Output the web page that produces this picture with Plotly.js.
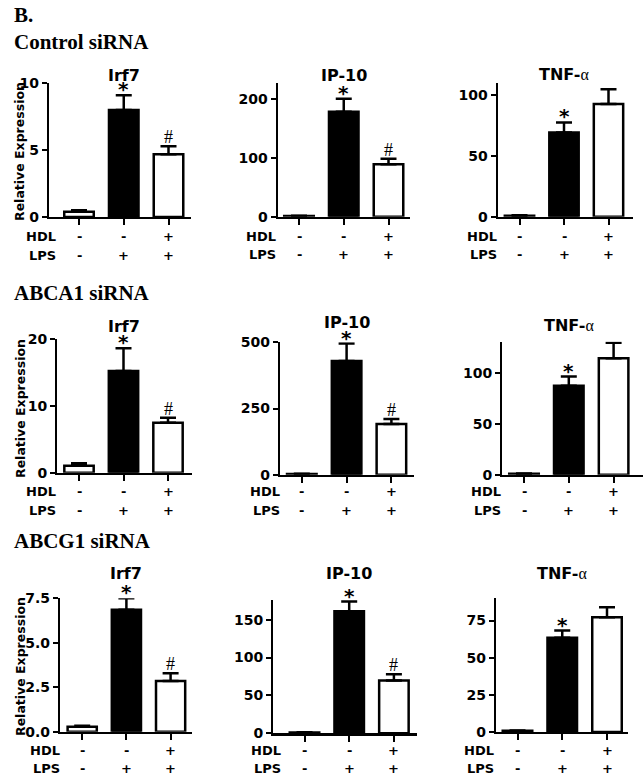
<!DOCTYPE html>
<html>
<head>
<meta charset="utf-8">
<script src="https://cdn.plot.ly/plotly-3.0.1.min.js"></script>
<style>html,body{margin:0;padding:0;background:#fff;}#chart{width:643px;height:779px;}</style>
</head>
<body>
<div id="chart"></div>
<script>
// ---------- data ----------
const conditions = ["Vehicle", "LPS", "HDL + LPS"];
const hdlRow = ["-", "-", "+"];
const lpsRow = ["-", "+", "+"];
const genes = ["Irf7", "IP-10", "TNF-α"];
const sirnaGroups = ["Control siRNA", "ABCA1 siRNA", "ABCG1 siRNA"];
const panelLetter = "B.";

const controlIrf7 = [0.4, 8.0, 4.7];
const controlIrf7Err = [0.1, 1.1, 0.6];
const controlIrf7Sig = ["", "*", "#"];
const controlIp10 = [1, 178, 89];
const controlIp10Err = [0.5, 22, 9];
const controlIp10Sig = ["", "*", "#"];
const controlTnf = [0.8, 69.4, 93];
const controlTnfErr = [0.3, 8.3, 12];
const controlTnfSig = ["", "*", ""];

const abca1Irf7 = [1.05, 15.25, 7.5];
const abca1Irf7Err = [0.35, 3.4, 0.75];
const abca1Irf7Sig = ["", "*", "#"];
const abca1Ip10 = [3, 429, 191];
const abca1Ip10Err = [1, 66, 19];
const abca1Ip10Sig = ["", "*", "#"];
const abca1Tnf = [1, 87.5, 114.8];
const abca1TnfErr = [0.3, 9.2, 15.2];
const abca1TnfSig = ["", "*", ""];

const abcg1Irf7 = [0.28, 6.85, 2.85];
const abcg1Irf7Err = [0.05, 0.65, 0.44];
const abcg1Irf7Sig = ["", "*", "#"];
const abcg1Ip10 = [1, 161, 69.6];
const abcg1Ip10Err = [0.3, 13, 8.4];
const abcg1Ip10Sig = ["", "*", "#"];
const abcg1Tnf = [0.8, 63.5, 77.3];
const abcg1TnfErr = [0.2, 4.8, 6.7];
const abcg1TnfSig = ["", "*", ""];

const panelValues = [controlIrf7, controlIp10, controlTnf, abca1Irf7, abca1Ip10, abca1Tnf, abcg1Irf7, abcg1Ip10, abcg1Tnf];
const panelErrors = [controlIrf7Err, controlIp10Err, controlTnfErr, abca1Irf7Err, abca1Ip10Err, abca1TnfErr, abcg1Irf7Err, abcg1Ip10Err, abcg1TnfErr];
const panelSigs = [controlIrf7Sig, controlIp10Sig, controlTnfSig, abca1Irf7Sig, abca1Ip10Sig, abca1TnfSig, abcg1Irf7Sig, abcg1Ip10Sig, abcg1TnfSig];

// ---------- layout (pixel boxes) ----------
const W = 643, H = 779;
const boxes = [
  {ax:49,   right:191,   top:83.3,  zero:217,   c0:79,    step:44.75, ymax:10,  dtick:5,   dec:0, ty:75,  lr:58,  hy:237, ly:255},
  {ax:277.7,right:410,   top:83.3,  zero:216.7, c0:299,   step:44.75, ymax:226, dtick:100, dec:0, ty:75,  lr:278, hy:236, ly:254},
  {ax:497.7,right:633,   top:83.3,  zero:216.7, c0:519.5, step:44.5,  ymax:110, dtick:50,  dec:0, ty:74,  lr:499, hy:236, ly:254},
  {ax:57.3, right:191.7, top:339.3, zero:472.7, c0:79,    step:44.5,  ymax:20,  dtick:10,  dec:0, ty:326, lr:58,  hy:491, ly:510},
  {ax:280,  right:414,   top:342.3, zero:474.7, c0:301.8, step:44.8,  ymax:500, dtick:250, dec:0, ty:323, lr:282, hy:491, ly:510},
  {ax:502.3,right:643,   top:341.7, zero:474.7, c0:524,   step:44.8,  ymax:131, dtick:50,  dec:0, ty:325, lr:503, hy:491, ly:510},
  {ax:60,   right:191.7, top:598.3, zero:731.7, c0:82.2,  step:44.2,  ymax:7.5, dtick:2.5, dec:1, ty:573, lr:62,  hy:750, ly:768},
  {ax:273.3,right:416.7, top:600,   zero:733.3, c0:304.5, step:44.7,  ymax:176, dtick:50,  dec:0, ty:573, lr:283, hy:750, ly:768},
  {ax:496,  right:628,   top:598.3, zero:732,   c0:517.5, step:44.75, ymax:90,  dtick:25,  dec:0, ty:573, lr:496, hy:750, ly:768}
];

const boldTick = {family:"DejaVu Sans", size:13, color:"black"};
const axisTickFont = {family:"DejaVu Sans", size:14, color:"black"};
const layout = {
  width: W, height: H,
  margin: {l:0, r:0, t:0, b:0},
  paper_bgcolor: "white", plot_bgcolor: "white",
  showlegend: false,
  font: {family:"DejaVu Sans", color:"black"},
  annotations: []
};
const traces = [];
const px = x => x / W;
const py = y => 1 - y / H;

boxes.forEach((b, i) => {
  const s = i === 0 ? "" : String(i + 1);
  const xa = "x" + s, ya = "y" + s;
  const tv = [];
  for (let t = 0; t <= b.ymax + 1e-9; t += b.dtick) tv.push(t);
  layout["xaxis" + s] = {
    domain: [px(b.ax), px(b.right)],
    range: [(b.ax - b.c0) / b.step, (b.right - b.c0) / b.step],
    anchor: ya, type: "category",
    showline: true, linecolor: "black", linewidth: 2.2,
    ticks: "outside", ticklen: 6, tickwidth: 2, tickcolor: "black",
    showticklabels: false, showgrid: false, zeroline: false, fixedrange: true
  };
  layout["yaxis" + s] = {
    domain: [py(b.zero), py(b.top)],
    range: [0, b.ymax], anchor: xa,
    tickmode: "array", tickvals: tv, ticktext: tv.map(t => "<b>" + t.toFixed(b.dec) + "</b>"),
    showline: true, linecolor: "black", linewidth: 2.2,
    ticks: "outside", ticklen: 5, tickwidth: 2, tickcolor: "black",
    tickfont: axisTickFont, showgrid: false, zeroline: false, fixedrange: true
  };
  const vals = panelValues[i], errs = panelErrors[i], sigs = panelSigs[i];
  traces.push({
    type: "bar", x: conditions, y: vals, xaxis: xa, yaxis: ya,
    width: 0.66, cliponaxis: false, hoverinfo: "skip",
    marker: {
      color: ["white", "black", "white"],
      line: {color: "black", width: 2.5},
      pattern: {shape: ["/", "", ""], fgcolor: "black", bgcolor: "white", size: 9, solidity: 0.15}
    },
    error_y: {type: "data", symmetric: false, array: errs, arrayminus: errs.map(() => 0),
              color: "black", thickness: 2.5, width: 8}
  });
  // gene title
  const gene = genes[i % 3];
  const gtext = gene === "TNF-α" ? "<b>TNF-</b><span style='font-family:Liberation Serif'>α</span>" : "<b>" + gene + "</b>";
  layout.annotations.push({xref: xa, yref: "paper", x: conditions[1], y: py(b.ty), text: gtext,
    showarrow: false, xanchor: "center", yanchor: "middle",
    font: {family: "DejaVu Sans", size: 16, color: "black"}});
  // significance marks
  sigs.forEach((m, j) => {
    if (!m) return;
    const star = m === "*";
    layout.annotations.push({xref: xa, yref: ya, x: conditions[j], y: vals[j] + errs[j],
      text: star ? "<b>*</b>" : m,
      showarrow: false, xanchor: "center", yanchor: "bottom", yshift: star ? -8 : -3,
      font: star ? {family: "DejaVu Sans", size: 20, color: "black"}
                 : {family: "Liberation Serif", size: 18, color: "black"}});
  });
  // HDL / LPS rows
  layout.annotations.push({xref: "paper", yref: "paper", x: px(b.lr), y: py(b.hy), text: "<b>HDL</b>",
    showarrow: false, xanchor: "right", yanchor: "middle", font: boldTick});
  layout.annotations.push({xref: "paper", yref: "paper", x: px(b.lr), y: py(b.ly), text: "<b>LPS</b>",
    showarrow: false, xanchor: "right", yanchor: "middle", font: boldTick});
  conditions.forEach((c, j) => {
    layout.annotations.push({xref: xa, yref: "paper", x: c, y: py(b.hy), text: "<b>" + hdlRow[j] + "</b>",
      showarrow: false, xanchor: "center", yanchor: "middle", font: boldTick});
    layout.annotations.push({xref: xa, yref: "paper", x: c, y: py(b.ly), text: "<b>" + lpsRow[j] + "</b>",
      showarrow: false, xanchor: "center", yanchor: "middle", font: boldTick});
  });
});

// y-axis titles (one per row)
[152, 409, 667].forEach(yc => {
  layout.annotations.push({xref: "paper", yref: "paper", x: px(20), y: py(yc), text: "<b>Relative Expression</b>",
    textangle: -90, showarrow: false, xanchor: "center", yanchor: "middle",
    font: {family: "DejaVu Sans", size: 12.5, color: "black"}});
});

// section headers
const headerFont = {family: "Liberation Serif", size: 21, color: "black"};
layout.annotations.push({xref: "paper", yref: "paper", x: px(12), y: py(15), text: "<b>" + panelLetter + "</b>",
  showarrow: false, xanchor: "left", yanchor: "middle", font: headerFont});
[42, 293, 541].forEach((yc, k) => {
  layout.annotations.push({xref: "paper", yref: "paper", x: px(12), y: py(yc), text: "<b>" + sirnaGroups[k] + "</b>",
    showarrow: false, xanchor: "left", yanchor: "middle", font: headerFont});
});

Plotly.newPlot("chart", traces, layout, {staticPlot: true, displayModeBar: false});
</script>
</body>
</html>
